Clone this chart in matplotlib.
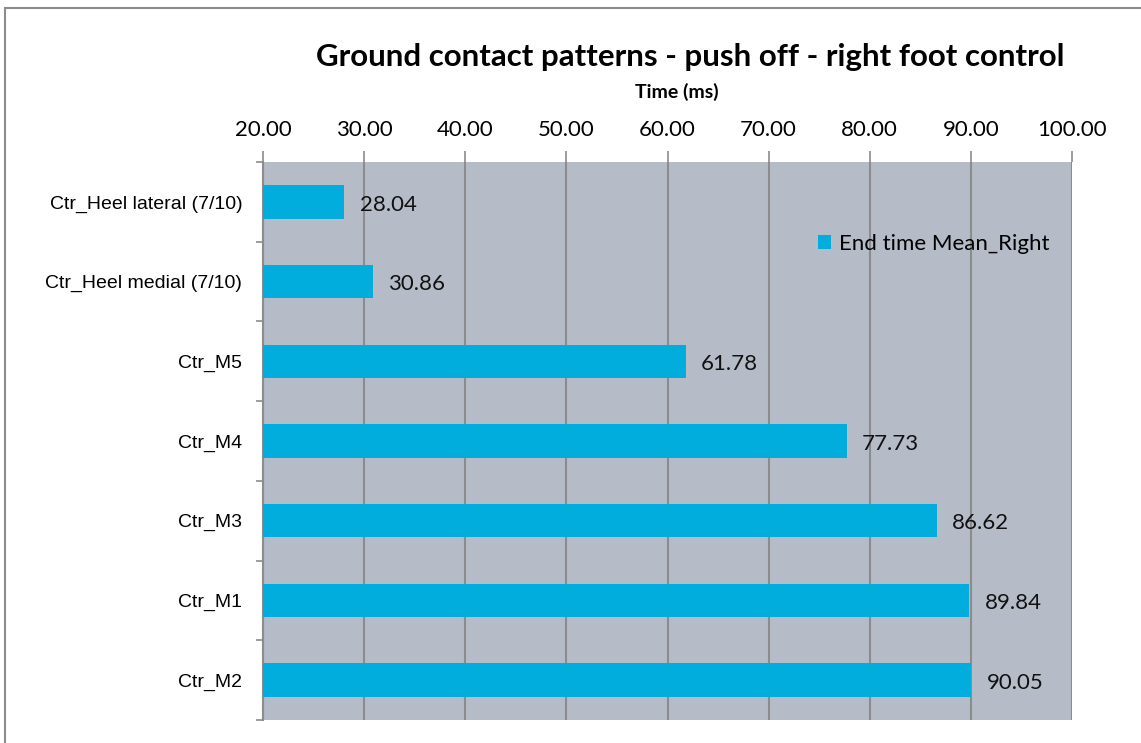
import matplotlib
matplotlib.use("Agg")
import matplotlib.pyplot as plt
from matplotlib.patches import Rectangle

categories = ["Ctr_Heel lateral (7/10)", "Ctr_Heel medial (7/10)", "Ctr_M5",
              "Ctr_M4", "Ctr_M3", "Ctr_M1", "Ctr_M2"]
end_times = [28.04, 30.86, 61.78, 77.73, 86.62, 89.84, 90.05]
x_ticks = [20, 30, 40, 50, 60, 70, 80, 90, 100]
series_name = "End time Mean_Right"

bar_color = "#00ADDC"
plot_bg = "#B5BCC8"
grid_color = "#8C8C8C"

W, H, DPI = 1141, 743, 100
fig = plt.figure(figsize=(W / DPI, H / DPI), dpi=DPI)

# plot area in pixels
left, right, top, bottom = 263, 1072, 162, 720
ax = fig.add_axes([left / W, 1 - bottom / H, (right - left) / W, (bottom - top) / H])
ax.set_facecolor(plot_bg)

n = len(categories)
ypos = list(range(n))
ax.barh(ypos, end_times, height=0.42, color=bar_color, zorder=3, label=series_name)

ax.set_xlim(20, 100)
ax.set_ylim(n - 0.5, -0.5)

# value labels
for y, v in zip(ypos, end_times):
    ax.annotate(f"{v:.2f}", xy=(v, y), xytext=(11, -2), textcoords="offset points",
                ha="left", va="center", fontsize=16, family="Lato", color="#111111",
                zorder=4)

# top x axis
ax.xaxis.tick_top()
ax.set_xticks(x_ticks)
ax.set_xticklabels([f"{t:.2f}" for t in x_ticks], fontsize=16, family="Lato")
ax.tick_params(axis="x", direction="out", length=8, width=1.2, color=grid_color, pad=8)

# category axis with ticks between categories
ax.set_yticks(ypos)
ax.set_yticklabels(categories, fontsize=14, family="Liberation Sans")
ax.tick_params(axis="y", which="major", length=0, pad=15)
ax.set_yticks([i - 0.5 for i in range(n + 1)], minor=True)
ax.tick_params(axis="y", which="minor", direction="out", length=5, width=1.2, color=grid_color)

ax.grid(axis="x", color=grid_color, linewidth=1.5, zorder=1)
ax.set_axisbelow(True)
for side in ["top", "bottom", "right"]:
    ax.spines[side].set_visible(False)
ax.spines["left"].set_color(grid_color)
ax.spines["left"].set_linewidth(1.5)

ax.legend(loc="upper left",
          bbox_to_anchor=((818 - left) / (right - left), 1 - (234 - top) / (bottom - top)),
          frameon=False, prop={"family": "Lato", "size": 16},
          handlelength=0.6, handleheight=0.6, handletextpad=0.35,
          borderaxespad=0, borderpad=0)

fig.text(690 / W, 1 - 66 / H, "Ground contact patterns - push off - right foot control",
         ha="center", va="baseline", fontsize=22.5, family="Lato", fontweight="bold")
fig.text(677 / W, 1 - 98 / H, "Time (ms)",
         ha="center", va="baseline", fontsize=14, family="Lato", fontweight="bold")

# outer chart frame
fig.patches.append(Rectangle((5 / W, -0.05), 1.2, 1 - 8 / H + 0.05, transform=fig.transFigure,
                             fill=False, edgecolor="#8C8C8C", linewidth=1.5))

fig.savefig("out.png", dpi=DPI)
